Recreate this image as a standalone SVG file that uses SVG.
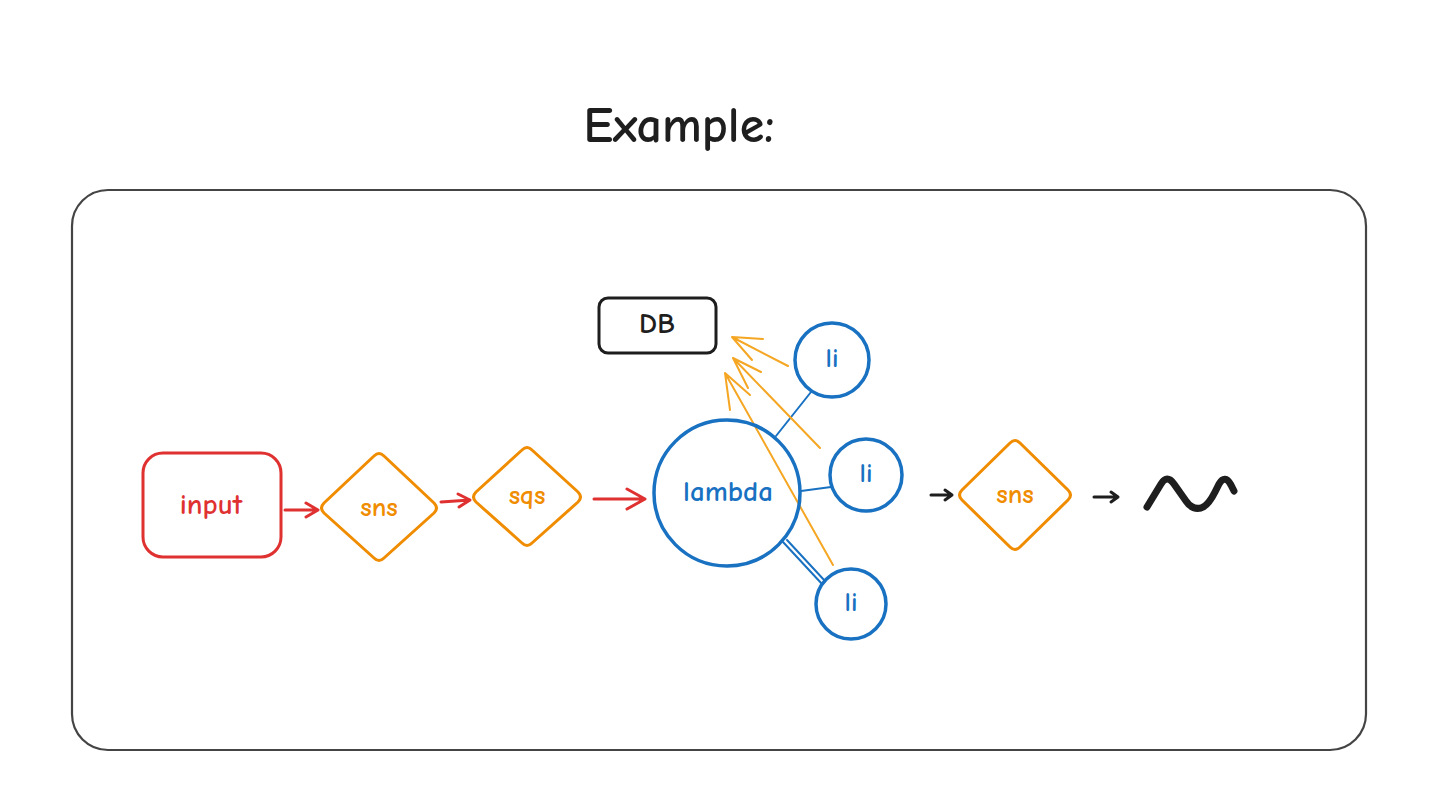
<svg xmlns="http://www.w3.org/2000/svg" width="1440" height="810" viewBox="0 0 1440 810">
<style>
text{font-family:"Comic Neue","Liberation Sans","DejaVu Sans",sans-serif;text-anchor:middle;dominant-baseline:central;font-weight:700}
.red{stroke:#e03131;fill:none;stroke-width:3;stroke-linecap:round;stroke-linejoin:round}
.org{stroke:#f08c00;fill:none;stroke-width:3;stroke-linecap:round;stroke-linejoin:round}
.org2{stroke:#f5a623;fill:none;stroke-width:2;stroke-linecap:round;stroke-linejoin:round}
.blu{stroke:#1971c2;fill:none;stroke-width:3.5}
.bl2{stroke:#1971c2;fill:none;stroke-width:2;stroke-linecap:round}
.blk{stroke:#1e1e1e;fill:none;stroke-width:3;stroke-linecap:round;stroke-linejoin:round}
</style>
<rect width="1440" height="810" fill="#ffffff"/>
<text x="679" y="126" font-size="50" fill="#1e1e1e">Example:</text>
<rect x="72" y="190" width="1294" height="560" rx="36" fill="none" stroke="#444" stroke-width="2.2"/>

<g id="connectors">
<path class="red" d="M285,510 L318,510 M306,503 L318,510 L306,517"/>
<path class="red" d="M441,502 L470,500 M458,494 L470,500 L459,507"/>
<path class="red" d="M594,499 L645,499 M627,489 L645,499 L627,509"/>
<path class="bl2" d="M776,436 L811,392"/>
<path class="bl2" d="M801,491 L831,487"/>
<path class="bl2" d="M783,542 L822,584 M787,540 L825,581"/>
<path class="org2" d="M788,366 L732,337 L763,339 M732,337 L752,360"/>
<path class="org2" d="M820,448 L733,358 L761,372 M733,358 L748,388"/>
<path class="org2" d="M833,565 L725,373 L750,395 M725,373 L730,410"/>
<path class="blk" d="M931,495 L952,495 M945,490 L952,495 L945,500"/>
<path class="blk" d="M1094,497 L1118,497 M1111,492 L1118,497 L1111,502"/>
</g>

<g id="input">
<rect class="red" x="143" y="453" width="138" height="104" rx="20"/>
<text x="211" y="504" font-size="29" fill="#e03131">input</text>
</g>
<g id="sns1">
<path class="org" d="M374,456 Q379,451 384,456 L434,503 Q439,508 434,513 L384,558 Q379,563 374,558 L324,513 Q319,508 324,503 Z"/>
<text x="379" y="507" font-size="27" fill="#f08c00">sns</text>
</g>
<g id="sqs">
<path class="org" d="M522,450 Q527,445 532,450 L578,492 Q583,497 578,502 L532,543 Q527,548 522,543 L476,502 Q471,497 476,492 Z"/>
<text x="527" y="495" font-size="27" fill="#f08c00">sqs</text>
</g>
<g id="lambda">
<circle class="blu" cx="727" cy="493" r="73"/>
<text x="728" y="491" font-size="29" fill="#1971c2">lambda</text>
</g>
<g id="li1">
<circle class="blu" cx="832" cy="360" r="37"/>
<text x="832" y="358" font-size="27" fill="#1971c2">li</text>
</g>
<g id="li2">
<circle class="blu" cx="866" cy="475" r="36"/>
<text x="866" y="473" font-size="27" fill="#1971c2">li</text>
</g>
<g id="li3">
<circle class="blu" cx="851" cy="604" r="35"/>
<text x="851" y="602" font-size="27" fill="#1971c2">li</text>
</g>
<g id="db">
<rect x="599" y="298" width="117" height="55" rx="9" fill="none" stroke="#1e1e1e" stroke-width="3"/>
<text x="657" y="323" font-size="29" fill="#1e1e1e">DB</text>
</g>
<g id="sns2">
<path class="org" d="M1010,443 Q1015,438 1020,443 L1068,490 Q1073,495 1068,500 L1020,547 Q1015,552 1010,547 L962,500 Q957,495 962,490 Z"/>
<text x="1015" y="494" font-size="27" fill="#f08c00">sns</text>
</g>
<g id="wave">
<path d="M1147,507 L1161,484 Q1167,474 1174,484 L1186,501 Q1192,510 1201,508 Q1208,506 1215,492 L1219,484 Q1225,474 1231,485 L1234,491" fill="none" stroke="#1e1e1e" stroke-width="7" stroke-linecap="round" stroke-linejoin="round"/>
</g>
</svg>
